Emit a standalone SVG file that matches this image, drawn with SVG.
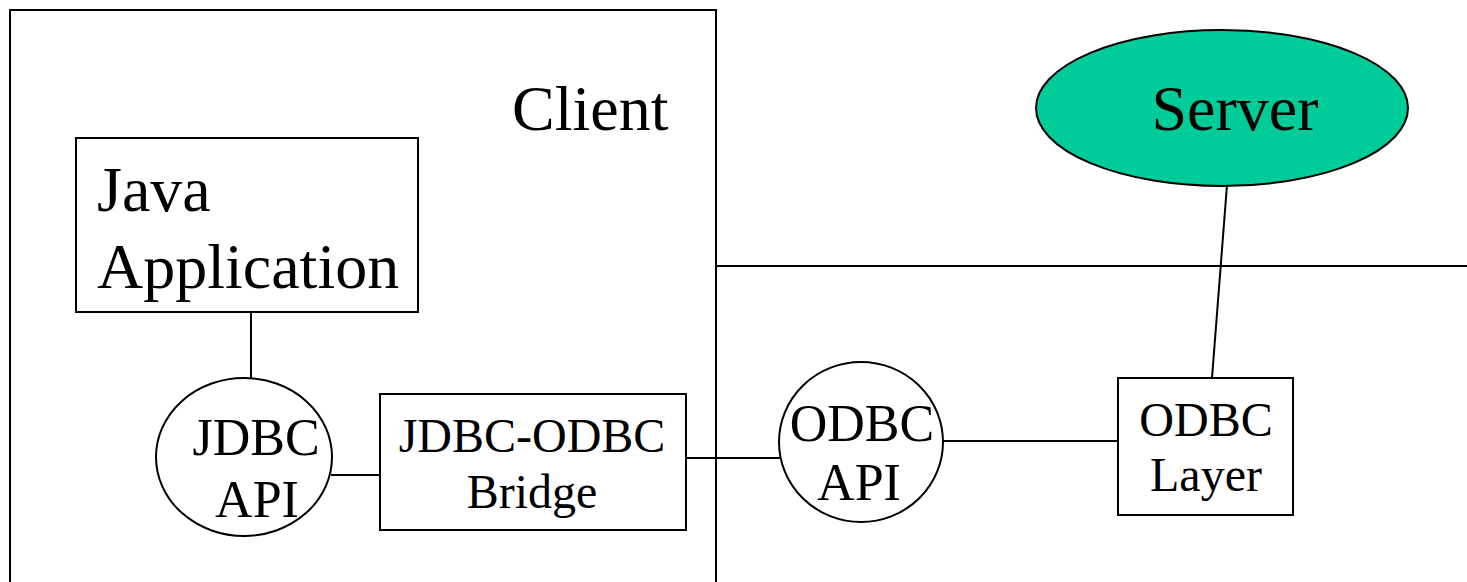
<svg xmlns="http://www.w3.org/2000/svg" width="1467" height="582" viewBox="0 0 1467 582">
  <style>
    .shape { fill: #ffffff; stroke: #000000; stroke-width: 2; }
    .wire { fill: none; stroke: #000000; stroke-width: 2; }
    text { font-family: "Liberation Serif", "Times New Roman", serif; fill: #000000; }
    .big { font-size: 64px; }
    .mid { font-size: 52px; }
    .small { font-size: 48px; }
  </style>
  <rect width="1467" height="582" fill="#ffffff"/>

  <!-- client boundary -->
  <g id="client">
    <rect class="shape" x="10" y="10" width="706" height="600"/>
    <text class="big" x="512" y="130">Client</text>
  </g>

  <!-- connectors -->
  <g id="connectors">
    <line class="wire" x1="716" y1="266" x2="1467" y2="266"/>
    <line class="wire" x1="251" y1="312" x2="251" y2="378"/>
    <line class="wire" x1="331" y1="475" x2="381" y2="475"/>
    <line class="wire" x1="684" y1="458" x2="780" y2="458"/>
    <line class="wire" x1="943" y1="441" x2="1133" y2="441"/>
    <line class="wire" x1="1212" y1="378" x2="1227" y2="185"/>
  </g>

  <g id="java-application">
    <rect class="shape" x="76" y="138" width="342" height="174"/>
    <text class="big" x="97" y="211">Java</text>
    <text class="big" x="97" y="288">Application</text>
  </g>

  <g id="jdbc-api">
    <ellipse class="shape" cx="244" cy="457" rx="88" ry="79"/>
    <text class="mid" x="256" y="455" text-anchor="middle">JDBC</text>
    <text class="mid" x="257" y="517" text-anchor="middle">API</text>
  </g>

  <g id="jdbc-odbc-bridge">
    <rect class="shape" x="380" y="394" width="306" height="136"/>
    <text class="small" x="532" y="452" text-anchor="middle">JDBC-ODBC</text>
    <text class="small" x="532" y="508" text-anchor="middle">Bridge</text>
  </g>

  <g id="odbc-api">
    <ellipse class="shape" cx="861" cy="442" rx="82" ry="80"/>
    <text class="mid" x="862" y="441" text-anchor="middle">ODBC</text>
    <text class="mid" x="859" y="500" text-anchor="middle">API</text>
  </g>

  <g id="odbc-layer">
    <rect class="shape" x="1118" y="378" width="175" height="137"/>
    <text class="small" x="1206" y="436" text-anchor="middle">ODBC</text>
    <text class="small" x="1206" y="491" text-anchor="middle">Layer</text>
  </g>

  <g id="server">
    <ellipse class="shape" cx="1222" cy="108" rx="186" ry="78" fill="#00cc99" style="fill:#00cc99"/>
    <text class="big" x="1235" y="130" text-anchor="middle">Server</text>
  </g>
</svg>
